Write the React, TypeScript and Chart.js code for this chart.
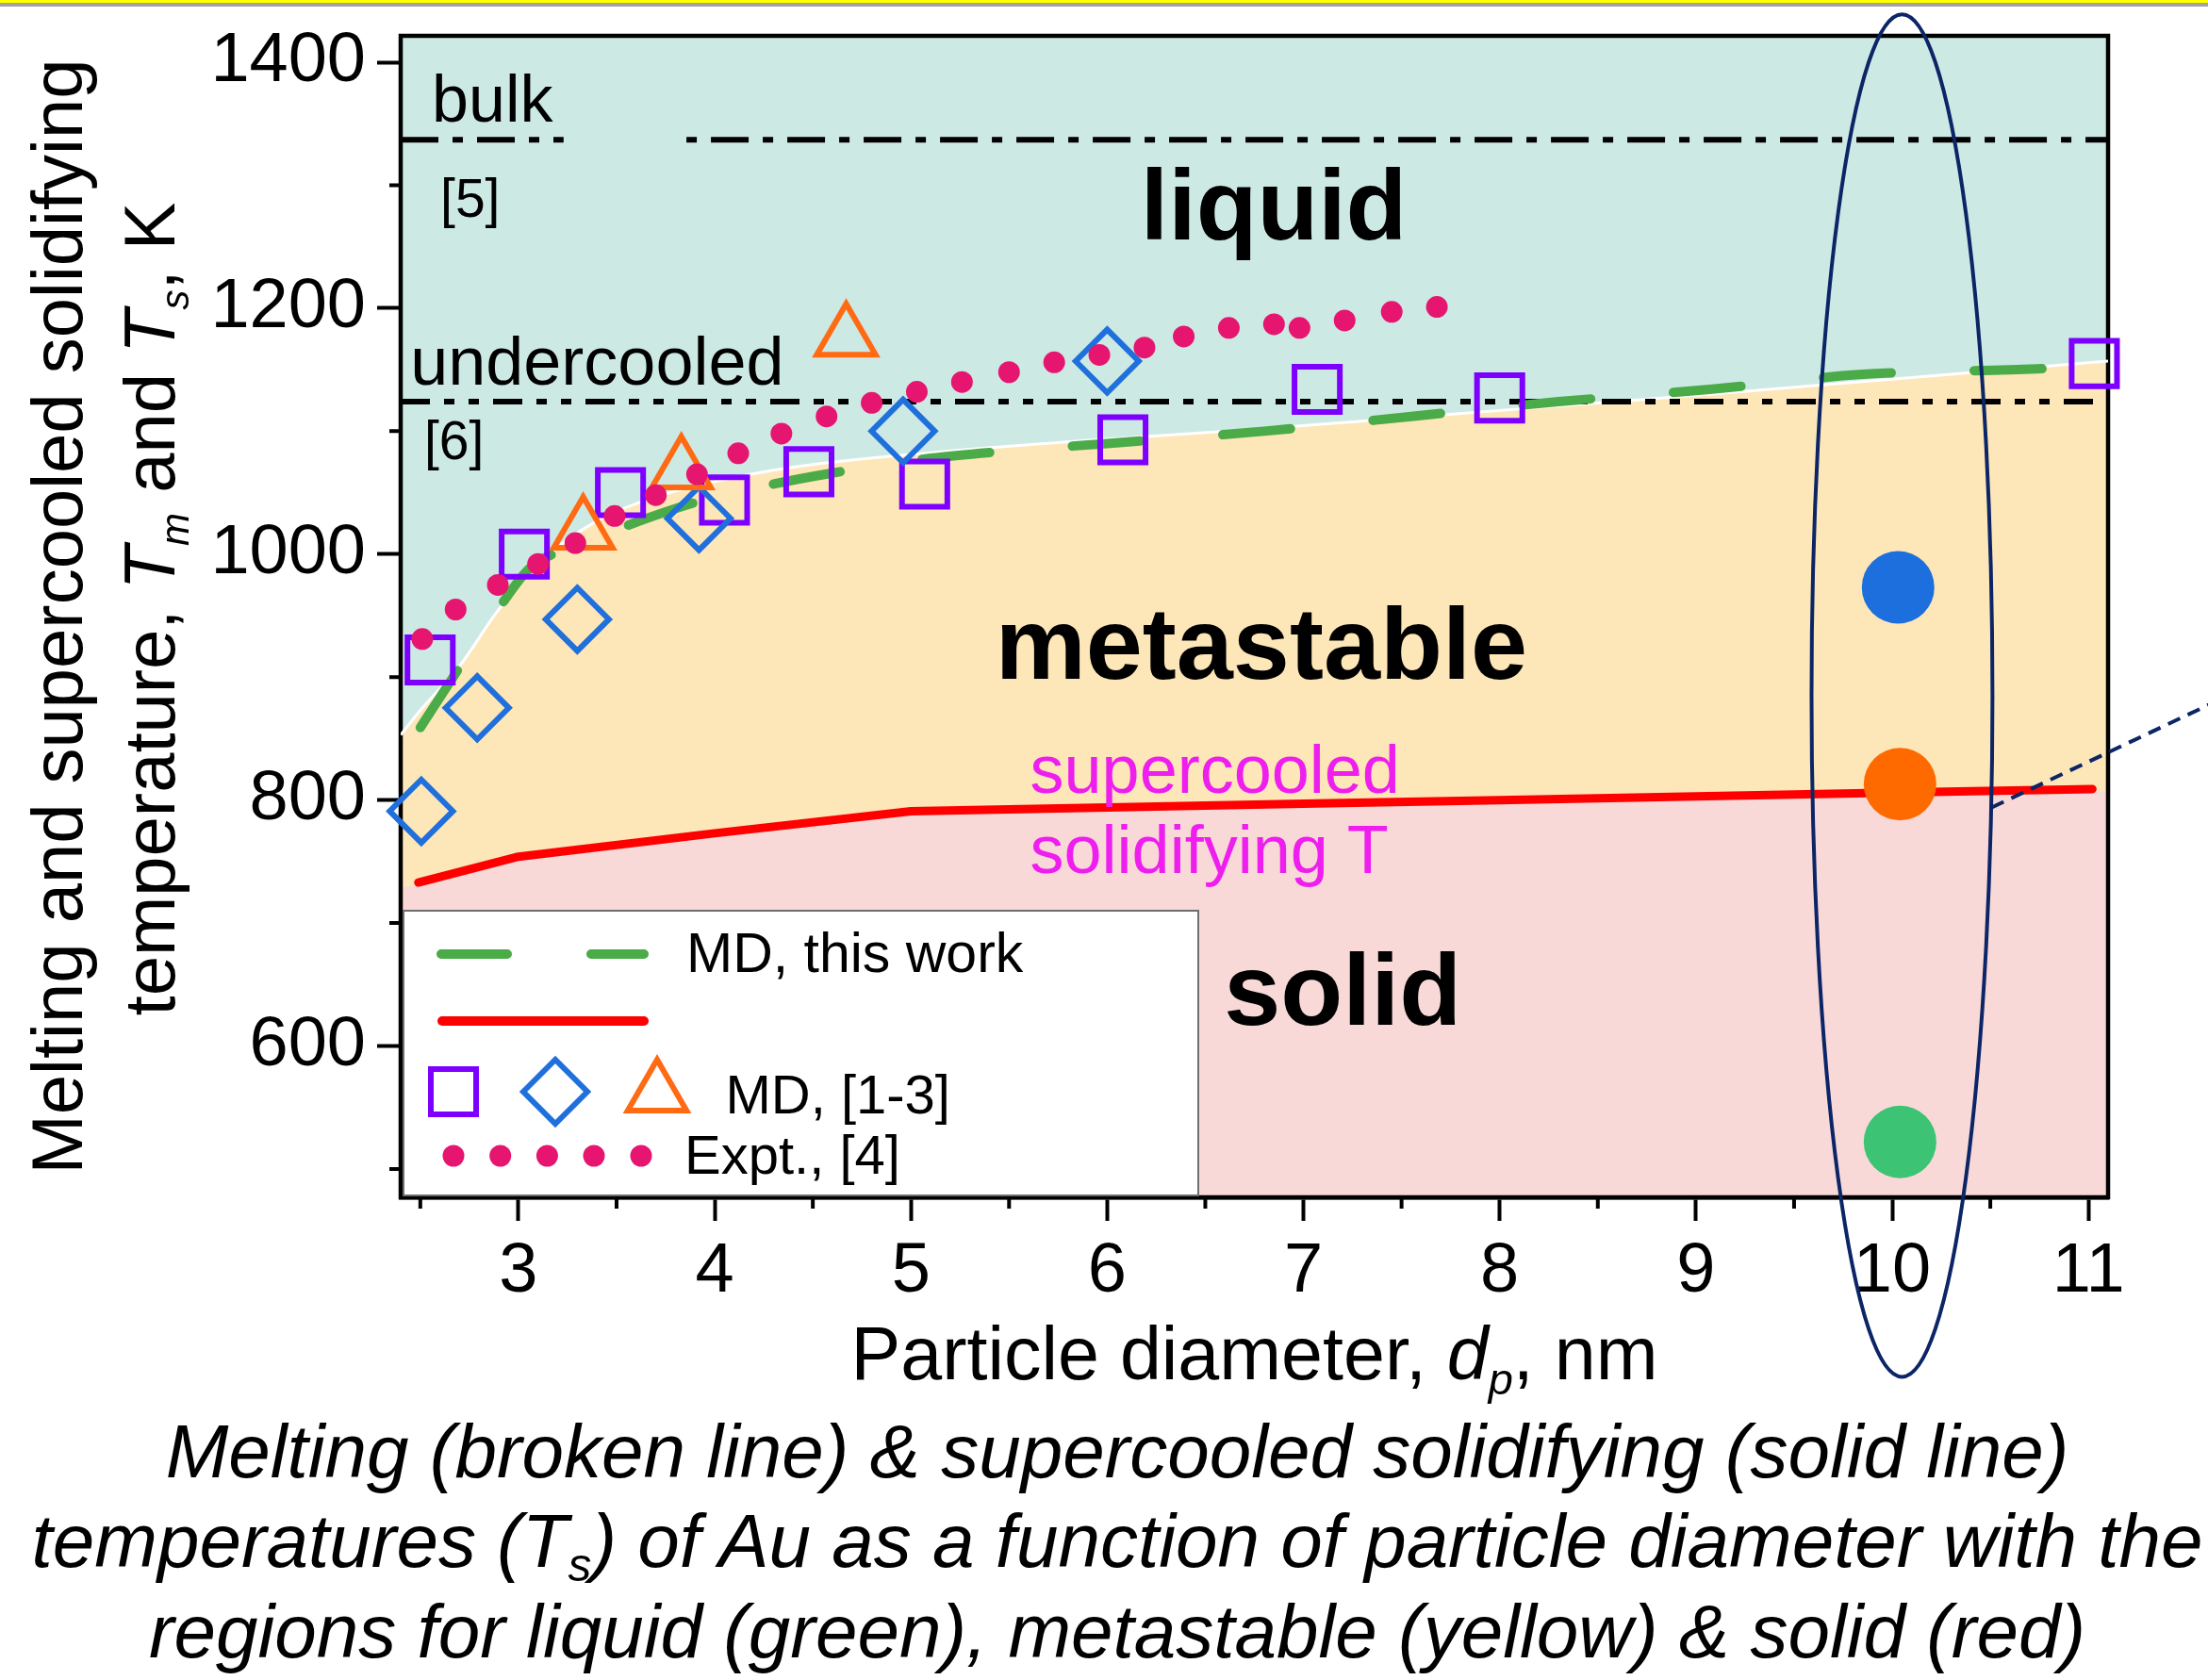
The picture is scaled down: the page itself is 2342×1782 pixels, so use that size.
import React, { useEffect, useRef } from 'react';
import { Chart, registerables } from 'chart.js';

Chart.register(...registerables);

const FONT = '"Liberation Sans", Arial, Helvetica, sans-serif';

// ---- axes ----
const X_MIN = 2.4;
const X_MAX = 11.1;
const Y_MIN = 477;
const Y_MAX = 1421.5;
const xMajorTicks = [3, 4, 5, 6, 7, 8, 9, 10, 11];
const xMinorTicks = [2.5, 3.5, 4.5, 5.5, 6.5, 7.5, 8.5, 9.5, 10.5];
const yMajorTicks = [600, 800, 1000, 1200, 1400];
const yMinorTicks = [500, 700, 900, 1100, 1300];

// ---- MD, this work: melting temperature (green broken line) ----
const meltD = [2.5, 2.7, 2.9, 3.06, 3.3, 3.5, 3.9, 4.3, 4.6, 5.1, 5.5, 6.0, 6.8, 7.55, 8.3, 9.07, 9.83, 10.6, 10.8];
const meltT = [859, 908, 956, 989, 1007, 1020, 1042, 1057, 1066, 1078, 1084, 1090, 1100, 1112, 1124, 1134, 1146, 1150, 1151];

// ---- supercooled solidifying temperature (red solid line) ----
const solidD = [2.49, 3, 4, 5, 6, 7, 8, 9, 10, 11.02];
const solidT = [733, 754, 773, 791, 794, 797, 800, 803, 806, 809];

// ---- MD, [1-3] ----
const squareD = [2.55, 3.03, 3.52, 4.05, 4.48, 5.07, 6.08, 7.07, 8.0, 11.03];
const squareT = [914, 1000, 1050, 1044, 1067, 1057, 1093, 1134, 1127, 1155];
const diamondD = [2.505, 2.79, 3.3, 3.92, 4.96, 6.0];
const diamondT = [791, 875, 947, 1029, 1100, 1157];
const triangleD = [3.33, 3.83, 4.67];
const triangleT = [1019, 1068, 1176];

// ---- Expt., [4] ----
const exptD = [2.51, 2.68, 2.895, 3.1, 3.29, 3.49, 3.7, 3.91, 4.12, 4.34, 4.57, 4.8, 5.03, 5.26, 5.5, 5.73, 5.96, 6.19, 6.39, 6.62, 6.85, 6.98, 7.21, 7.45, 7.68];
const exptT = [931, 955, 975, 992, 1009, 1031, 1048, 1065, 1082, 1098, 1112, 1123, 1132, 1140, 1148, 1156, 1162, 1168, 1177, 1184, 1187, 1184, 1190, 1197, 1201];

// ---- region boundaries ----
const liquidEdgeD = [2.4, 2.5, 2.7, 2.9, 3.15, 3.4, 3.67, 4.0, 4.41, 5.14, 6.13, 6.79, 7.93, 9.07, 10.2, 11.1];
const liquidEdgeT = [853, 873, 909, 955, 999, 1027, 1045, 1059, 1071, 1083, 1095, 1102, 1116, 1130, 1145, 1157];
const solidEdgeD = [2.4, 2.49, 3, 4, 5, 11.02, 11.1];
const solidEdgeT = [729, 731, 752, 771, 789, 807, 807];

// ---- reference temperatures ----
const bulkLeftD = [2.4, 3.23];
const bulkLeftT = [1337, 1337];
const bulkRightD = [3.856, 11.1];
const bulkRightT = [1337, 1337];
const undercooledD = [2.4, 11.1];
const undercooledT = [1124, 1124];

// ---- highlighted states at d = 10 nm ----
const highlightD = [10.03, 10.04, 10.04];
const highlightT = [973, 813, 522];
const highlightColors = ['#1c6fdd', '#ff6a00', '#3cc373'];

// ---- annotations (data coordinates) ----
const ellipseSpec = { d: 10.05, T: 885, rd: 0.461, rT: 554 };
const connectorSpec = { d1: 10.507, T1: 794, d2: 11.62, T2: 878 };

type Note = { text: string; d: number; T: number; size: number; bold?: boolean; color: string };
const notes: Note[] = [
  { text: 'bulk', d: 2.559, T: 1352, size: 70, color: '#000' },
  { text: '[5]', d: 2.602, T: 1274, size: 57, color: '#000' },
  { text: 'undercooled', d: 2.449, T: 1138, size: 72, color: '#000' },
  { text: '[6]', d: 2.52, T: 1077, size: 57, color: '#000' },
  { text: 'liquid', d: 6.17, T: 1256, size: 106, bold: true, color: '#000' },
  { text: 'metastable', d: 5.43, T: 899, size: 108, bold: true, color: '#000' },
  { text: 'solid', d: 6.595, T: 617, size: 108, bold: true, color: '#000' },
  { text: 'supercooled', d: 5.607, T: 806, size: 72, color: '#ee1eee' },
  { text: 'solidifying T', d: 5.607, T: 741, size: 72, color: '#ee1eee' },
];

const COLORS = {
  teal: '#cde9e4',
  yellow: '#fde6b7',
  pink: '#f9d9d8',
  green: '#4aab48',
  red: '#ff0000',
  purple: '#7d00ff',
  blue: '#1f6fdc',
  orange: '#ff6a13',
  dot: '#e6156f',
  navy: '#0b2566',
};

type Seg = { t: string; italic?: boolean; sub?: boolean };
const yTitle1: Seg[] = [{ t: 'Melting and supercooled solidifying' }];
const yTitle2: Seg[] = [
  { t: 'temperature, ' },
  { t: 'T', italic: true },
  { t: 'm', italic: true, sub: true },
  { t: ' and ' },
  { t: 'T', italic: true },
  { t: 's', italic: true, sub: true },
  { t: ', K' },
];
const xTitle: Seg[] = [
  { t: 'Particle diameter, ' },
  { t: 'd', italic: true },
  { t: 'p', italic: true, sub: true },
  { t: ', nm' },
];

const pts = (xs: number[], ys: (number | null)[]) => xs.map((x, i) => ({ x, y: ys[i] }));

function drawRich(
  ctx: CanvasRenderingContext2D,
  segs: Seg[],
  x: number,
  y: number,
  size: number,
  subScale: number,
  align: 'left' | 'center'
) {
  const fontFor = (s: Seg) => `${s.italic ? 'italic ' : ''}${s.sub ? Math.round(size * subScale) : size}px ${FONT}`;
  const widths = segs.map((s) => {
    ctx.font = fontFor(s);
    return ctx.measureText(s.t).width;
  });
  const total = widths.reduce((a, b) => a + b, 0);
  let cx = align === 'center' ? x - total / 2 : x;
  ctx.textAlign = 'left';
  ctx.textBaseline = 'alphabetic';
  segs.forEach((s, i) => {
    ctx.font = fontFor(s);
    ctx.fillText(s.t, cx, y + (s.sub ? size * 0.2 : 0));
    cx += widths[i];
  });
}

const decorPlugin = {
  id: 'decor',
  beforeDatasetsDraw(chart: any) {
    const { ctx, chartArea: ca } = chart;
    ctx.save();
    ctx.strokeStyle = '#000';
    ctx.lineWidth = 4.5;
    ctx.strokeRect(ca.left, ca.top, ca.right - ca.left, ca.bottom - ca.top);
    ctx.restore();
  },
  afterDatasetsDraw(chart: any) {
    const { ctx, chartArea: ca } = chart;
    const xs = chart.scales.x;
    const ys = chart.scales.y;
    const px = (d: number) => xs.getPixelForValue(d);
    const py = (t: number) => ys.getPixelForValue(t);
    ctx.save();

    // minor ticks
    ctx.strokeStyle = '#000';
    ctx.lineWidth = 4;
    ctx.beginPath();
    xMinorTicks.forEach((v) => {
      const x = px(v);
      ctx.moveTo(x, ca.bottom);
      ctx.lineTo(x, ca.bottom + 12);
    });
    yMinorTicks.forEach((v) => {
      const y = py(v);
      ctx.moveTo(ca.left, y);
      ctx.lineTo(ca.left - 12, y);
    });
    ctx.stroke();

    // region & reference labels
    ctx.textAlign = 'left';
    ctx.textBaseline = 'alphabetic';
    notes.forEach((n) => {
      ctx.font = `${n.bold ? 'bold ' : ''}${n.size}px ${FONT}`;
      ctx.fillStyle = n.color;
      ctx.fillText(n.text, px(n.d), py(n.T));
    });

    // legend box
    const L = ca.left + 3;
    const Tp = ca.bottom - 304;
    const R = ca.left + 846;
    const B = ca.bottom - 2;
    ctx.fillStyle = '#ffffff';
    ctx.fillRect(L, Tp, R - L, B - Tp);
    ctx.strokeStyle = '#6e6e6e';
    ctx.lineWidth = 2;
    ctx.strokeRect(L, Tp, R - L, B - Tp);

    ctx.lineCap = 'round';
    ctx.lineWidth = 10;
    ctx.strokeStyle = COLORS.green;
    ctx.beginPath();
    ctx.moveTo(L + 40, Tp + 46);
    ctx.lineTo(L + 110, Tp + 46);
    ctx.moveTo(L + 199, Tp + 46);
    ctx.lineTo(L + 255, Tp + 46);
    ctx.stroke();
    ctx.strokeStyle = COLORS.red;
    ctx.beginPath();
    ctx.moveTo(L + 41, Tp + 117);
    ctx.lineTo(L + 255, Tp + 117);
    ctx.stroke();
    ctx.lineCap = 'butt';
    ctx.lineJoin = 'miter';
    ctx.lineWidth = 6;
    // square
    ctx.strokeStyle = COLORS.purple;
    ctx.strokeRect(L + 53 - 24, Tp + 192 - 24, 48, 48);
    // diamond
    ctx.strokeStyle = COLORS.blue;
    ctx.beginPath();
    const dx = L + 161;
    const dy = Tp + 192;
    ctx.moveTo(dx - 34, dy);
    ctx.lineTo(dx, dy - 34);
    ctx.lineTo(dx + 34, dy);
    ctx.lineTo(dx, dy + 34);
    ctx.closePath();
    ctx.stroke();
    // triangle
    ctx.strokeStyle = COLORS.orange;
    ctx.beginPath();
    const tx = L + 269;
    const ty = Tp + 194;
    const tr = 36;
    ctx.moveTo(tx, ty - tr);
    ctx.lineTo(tx + tr * Math.sin((2 * Math.PI) / 3), ty + tr / 2);
    ctx.lineTo(tx - tr * Math.sin((2 * Math.PI) / 3), ty + tr / 2);
    ctx.closePath();
    ctx.stroke();
    // dots
    ctx.fillStyle = COLORS.dot;
    [53, 102.7, 152.4, 202, 252].forEach((o) => {
      ctx.beginPath();
      ctx.arc(L + o, Tp + 260, 11.5, 0, Math.PI * 2);
      ctx.fill();
    });
    ctx.fillStyle = '#000';
    ctx.font = `59px ${FONT}`;
    ctx.fillText('MD, this work', L + 300, Tp + 64.6);
    ctx.font = `58px ${FONT}`;
    ctx.fillText('MD, [1-3]', L + 341.5, Tp + 214.7);
    ctx.fillText('Expt., [4]', L + 298, Tp + 279);

    // ellipse highlighting d = 10 nm
    const ecx = px(ellipseSpec.d);
    const ecy = py(ellipseSpec.T);
    const erx = px(ellipseSpec.d + ellipseSpec.rd) - ecx;
    const ery = ecy - py(ellipseSpec.T + ellipseSpec.rT);
    ctx.strokeStyle = COLORS.navy;
    ctx.lineWidth = 4;
    ctx.beginPath();
    ctx.ellipse(ecx, ecy, erx, ery, 0, 0, Math.PI * 2);
    ctx.stroke();
    // dashed connector
    ctx.setLineDash([14, 9]);
    ctx.beginPath();
    ctx.moveTo(px(connectorSpec.d1), py(connectorSpec.T1));
    ctx.lineTo(px(connectorSpec.d2), py(connectorSpec.T2));
    ctx.stroke();
    ctx.setLineDash([]);

    // axis titles
    ctx.fillStyle = '#000';
    const cy = (ca.top + ca.bottom) / 2;
    ctx.save();
    ctx.translate(87, cy);
    ctx.rotate(-Math.PI / 2);
    drawRich(ctx, yTitle1, 0, 0, 76, 0.55, 'center');
    ctx.restore();
    ctx.save();
    ctx.translate(185, cy - 8);
    ctx.rotate(-Math.PI / 2);
    drawRich(ctx, yTitle2, 0, 0, 76, 0.55, 'center');
    ctx.restore();
    drawRich(ctx, xTitle, (ca.left + ca.right) / 2, ca.bottom + 193, 79, 0.6, 'center');

    ctx.restore();
  },
};

export default function App() {
  const ref = useRef<HTMLCanvasElement>(null);
  useEffect(() => {
    document.body.style.margin = '0';
    const canvas = ref.current!;
    const lineBase = { pointRadius: 0, pointHoverRadius: 0, showLine: true, fill: false };
    const markerBase = { showLine: false, clip: false as any, pointHoverRadius: 0 };
    const chart = new Chart(canvas, {
      type: 'line',
      data: {
        datasets: [
          {
            ...markerBase,
            label: 'highlight',
            data: pts(highlightD, highlightT),
            pointStyle: 'circle',
            pointRadius: 38.5,
            pointBackgroundColor: highlightColors,
            pointBorderWidth: 0,
            pointBorderColor: 'rgba(0,0,0,0)',
            order: 0,
          } as any,
          {
            ...markerBase,
            label: 'Expt., [4]',
            data: pts(exptD, exptT),
            pointStyle: 'circle',
            pointRadius: 11.5,
            pointBackgroundColor: COLORS.dot,
            pointBorderWidth: 0,
            pointBorderColor: 'rgba(0,0,0,0)',
            order: 1,
          },
          {
            ...markerBase,
            label: 'MD triangles',
            data: pts(triangleD, triangleT),
            pointStyle: 'triangle',
            pointRadius: 36,
            pointBorderWidth: 6,
            pointBorderColor: COLORS.orange,
            pointBackgroundColor: 'rgba(0,0,0,0)',
            order: 2,
          },
          {
            ...markerBase,
            label: 'MD diamonds',
            data: pts(diamondD, diamondT),
            pointStyle: 'rectRot',
            pointRadius: 33.5,
            pointBorderWidth: 6,
            pointBorderColor: COLORS.blue,
            pointBackgroundColor: 'rgba(0,0,0,0)',
            order: 3,
          },
          {
            ...markerBase,
            label: 'MD squares',
            data: pts(squareD, squareT),
            pointStyle: 'rect',
            pointRadius: 34,
            pointBorderWidth: 6,
            pointBorderColor: COLORS.purple,
            pointBackgroundColor: 'rgba(0,0,0,0)',
            order: 4,
          },
          {
            ...lineBase,
            label: 'MD, this work',
            data: pts(meltD, meltT),
            borderColor: COLORS.green,
            borderWidth: 10,
            borderDash: [72, 88],
            borderCapStyle: 'round',
            cubicInterpolationMode: 'monotone',
            order: 5,
          },
          {
            ...lineBase,
            label: 'supercooled solidifying T',
            data: pts(solidD, solidT),
            borderColor: COLORS.red,
            borderWidth: 9,
            borderCapStyle: 'round',
            borderJoinStyle: 'round',
            tension: 0,
            order: 6,
          },
          {
            ...lineBase,
            label: 'bulk [5] (left)',
            data: pts(bulkLeftD, bulkLeftT),
            borderColor: '#000',
            borderWidth: 6,
            borderDash: [40, 15, 11, 15],
            tension: 0,
            order: 7,
          },
          {
            ...lineBase,
            label: 'bulk [5]',
            data: pts(bulkRightD, bulkRightT),
            borderColor: '#000',
            borderWidth: 6,
            borderDash: [40, 15, 11, 15],
            borderDashOffset: 55,
            tension: 0,
            order: 7,
          },
          {
            ...lineBase,
            label: 'undercooled [6]',
            data: pts(undercooledD, undercooledT),
            borderColor: '#000',
            borderWidth: 6,
            borderDash: [31, 15, 11, 15, 11, 15],
            tension: 0,
            order: 8,
          },
          {
            ...lineBase,
            label: 'liquid region',
            data: pts(liquidEdgeD, liquidEdgeT),
            borderColor: '#ffffff',
            borderWidth: 3,
            cubicInterpolationMode: 'monotone',
            fill: 'end',
            backgroundColor: COLORS.teal,
            order: 9,
          },
          {
            ...lineBase,
            label: 'solid region',
            data: pts(solidEdgeD, solidEdgeT),
            borderColor: 'rgba(0,0,0,0)',
            borderWidth: 1,
            tension: 0,
            fill: 'start',
            backgroundColor: COLORS.pink,
            order: 10,
          },
          {
            ...lineBase,
            label: 'metastable region',
            data: pts(liquidEdgeD, liquidEdgeT),
            borderColor: 'rgba(0,0,0,0)',
            borderWidth: 1,
            cubicInterpolationMode: 'monotone',
            fill: 'start',
            backgroundColor: COLORS.yellow,
            order: 11,
          },
        ] as any,
      },
      options: {
        animation: false,
        responsive: false,
        devicePixelRatio: 1,
        events: [],
        layout: { padding: { left: 0, top: 138, right: 106, bottom: 100 } },
        scales: {
          x: {
            type: 'linear',
            min: X_MIN,
            max: X_MAX,
            afterBuildTicks: (s: any) => {
              s.ticks = xMajorTicks.map((v) => ({ value: v }));
            },
            afterFit: (s: any) => {
              s.height = 130;
            },
            grid: { drawOnChartArea: false, drawTicks: true, tickLength: 25, tickWidth: 4, tickColor: '#000' },
            border: { display: true, color: '#000', width: 4.5 },
            ticks: {
              autoSkip: false,
              maxRotation: 0,
              padding: 10,
              color: '#000',
              font: { family: FONT, size: 74 },
              callback: (v: any) => String(v),
            },
          },
          y: {
            type: 'linear',
            min: Y_MIN,
            max: Y_MAX,
            afterBuildTicks: (s: any) => {
              s.ticks = yMajorTicks.map((v) => ({ value: v }));
            },
            afterFit: (s: any) => {
              s.width = 425;
            },
            grid: { drawOnChartArea: false, drawTicks: true, tickLength: 25, tickWidth: 4, tickColor: '#000' },
            border: { display: true, color: '#000', width: 4.5 },
            ticks: {
              padding: 12,
              color: '#000',
              font: { family: FONT, size: 74 },
              callback: (v: any) => String(v),
            },
          },
        },
        plugins: {
          legend: { display: false },
          tooltip: { enabled: false },
          filler: { propagate: false, drawTime: 'beforeDatasetsDraw' },
        },
      } as any,
      plugins: [decorPlugin],
    });
    return () => chart.destroy();
  }, []);

  const captionLine = (top: number): React.CSSProperties => ({
    position: 'absolute',
    left: 28,
    width: 2314,
    top,
    textAlign: 'center',
    whiteSpace: 'nowrap',
    fontStyle: 'italic',
    fontSize: 80,
    lineHeight: '97px',
    color: '#000',
  });

  return (
    <div
      style={{
        position: 'fixed',
        left: 0,
        top: 0,
        width: 2342,
        height: 1782,
        background: '#ffffff',
        overflow: 'hidden',
        fontFamily: FONT,
      }}
    >
      <canvas ref={ref} width={2342} height={1600} style={{ position: 'absolute', left: 0, top: -100, width: 2342, height: 1600 }} />
      <div style={{ position: 'absolute', left: 0, top: 0, width: 2342, height: 3, background: '#ffff00' }} />
      <div style={{ position: 'absolute', left: 0, top: 3, width: 2342, height: 4, background: '#a3a3a3' }} />
      <div style={captionLine(1491)}>Melting (broken line) &amp; supercooled solidifying (solid line)</div>
      <div style={captionLine(1586)}>
        temperatures (T<span style={{ fontSize: '0.62em', position: 'relative', top: '0.3em' }}>s</span>) of Au as a function of particle diameter with the
      </div>
      <div style={captionLine(1682)}>regions for liquid (green), metastable (yellow) &amp; solid (red)</div>
    </div>
  );
}
